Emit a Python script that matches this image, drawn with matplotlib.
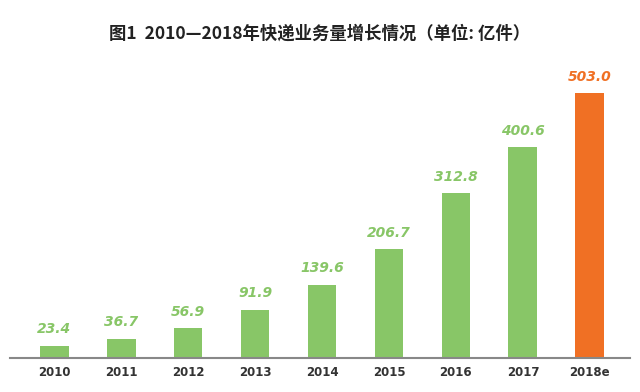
import matplotlib
matplotlib.use('Agg')
from matplotlib import pyplot as plt

plt.rcParams['font.family'] = ['Noto Sans CJK SC', 'DejaVu Sans']

years = ['2010', '2011', '2012', '2013', '2014', '2015', '2016', '2017', '2018e']
volumes = [23.4, 36.7, 56.9, 91.9, 139.6, 206.7, 312.8, 400.6, 503.0]
labels = ['23.4', '36.7', '56.9', '91.9', '139.6', '206.7', '312.8', '400.6', '503.0']

green = '#88c667'
orange = '#f07024'
colors = [green] * 8 + [orange]

fig = plt.figure(figsize=(6.4, 3.92), dpi=100)
ax = fig.add_axes([0.0156, 0.0867, 0.9688, 0.76])

x = list(range(len(years)))
ax.bar(x, volumes, width=0.43, color=colors)

# 柱顶数值
for i, v in enumerate(volumes):
    ax.text(i, v + 18, labels[i], ha='center', va='bottom', color=colors[i],
            fontsize=10, fontweight='bold', fontstyle='italic', family='DejaVu Sans')

ax.set_xlim(-0.66, 8.6)
ax.set_ylim(0, 566)
ax.set_xticks(x)
ax.set_xticklabels(years, fontsize=8.5, color='#333333', fontweight='bold', family='DejaVu Sans')
ax.tick_params(axis='x', length=0, pad=6)
ax.set_yticks([])
for s in ['top', 'right', 'left']:
    ax.spines[s].set_visible(False)
ax.spines['bottom'].set_color('#888888')
ax.spines['bottom'].set_linewidth(1.5)

fig.text(0.5, 0.915, '图1  2010—2018年快递业务量增长情况（单位: 亿件）', ha='center', va='center',
         fontsize=12.5, fontweight='bold', color='#222222')

plt.savefig('out.png', dpi=100)
